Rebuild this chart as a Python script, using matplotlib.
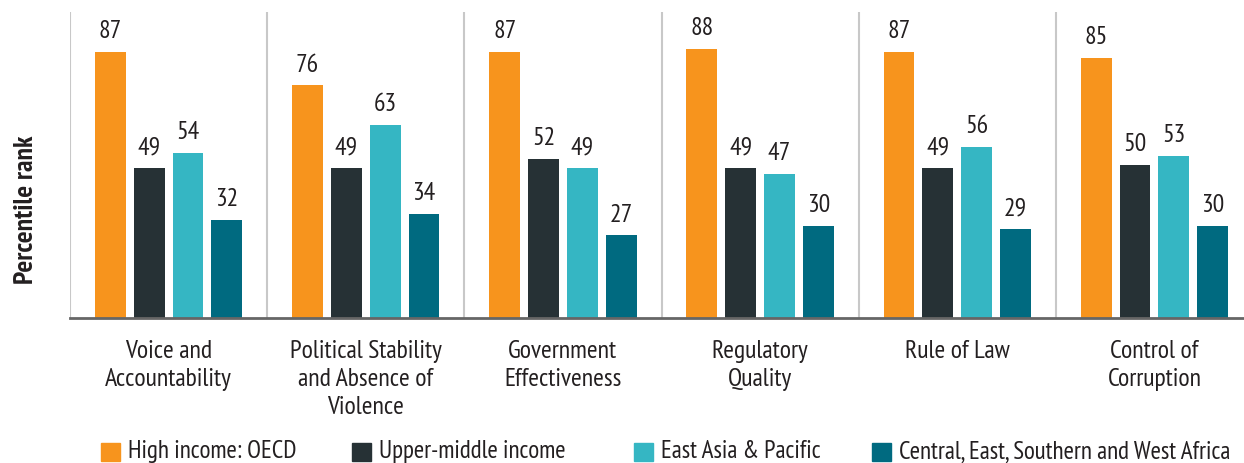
import numpy as np
import matplotlib.pyplot as plt
from matplotlib import font_manager
from matplotlib.patches import Rectangle

# data
categories = ["Voice and\nAccountability", "Political Stability\nand Absence of\nViolence",
              "Government\nEffectiveness", "Regulatory\nQuality", "Rule of Law",
              "Control of\nCorruption"]
series_names = ["High income: OECD", "Upper-middle income", "East Asia & Pacific",
                "Central, East, Southern and West Africa"]
high_income = [87, 76, 87, 88, 87, 85]
upper_middle = [49, 49, 52, 49, 49, 50]
east_asia = [54, 63, 49, 47, 56, 53]
africa = [32, 34, 27, 30, 29, 30]

colors = ["#F7941D", "#263135", "#35B6C3", "#006A80"]

# pick a condensed face close to the original
names = {f.name for f in font_manager.fontManager.ttflist}
fam = "DejaVu Sans"
for cand in ["PT Sans Narrow", "Fira Sans Condensed", "Roboto Condensed",
             "Archivo Narrow", "Asap Condensed"]:
    if cand in names:
        fam = cand
        break
plt.rcParams['font.family'] = [fam, 'DejaVu Sans']
txt_color = "#231f20"

fig = plt.figure(figsize=(12.44, 4.64), dpi=100)
# axes spans a little past the right edge, like the original
ax = fig.add_axes([70 / 1244, (464 - 319) / 464, 1183 / 1244, 306 / 464])

x = np.arange(len(categories))
step = 0.197
width = 0.157
all_series = [high_income, upper_middle, east_asia, africa]
for k, vals in enumerate(all_series):
    pos = x + (k - 1.5) * step
    ax.bar(pos, vals, width, color=colors[k], label=series_names[k])
    for p, v in zip(pos, vals):
        ax.text(p, v + 3.2, str(v), ha='center', va='bottom', fontsize=18.5, color=txt_color)

for i in range(len(categories) + 1):
    ax.axvline(i - 0.5, ymin=0, ymax=1, color="#c8c8c8", lw=1.5, zorder=0)

ax.set_xlim(-0.5, len(categories) - 0.5)
ax.set_ylim(0, 100)
ax.set_yticks([])
ax.set_xticks(x)
ax.set_xticklabels(categories, fontsize=18.5, color=txt_color, linespacing=1.28)
ax.tick_params(axis='x', length=0, pad=15)
for s in ['top', 'right', 'left']:
    ax.spines[s].set_visible(False)
ax.spines['bottom'].set_color("#666666")
ax.spines['bottom'].set_linewidth(2)

ax.set_ylabel("Percentile rank", fontsize=20, fontweight='bold', color=txt_color)
ax.yaxis.set_label_coords(-0.027, 0.356)

# legend drawn by hand so each entry sits where the original has it
legend_x = [101, 352, 634, 872]
for k, name in enumerate(series_names):
    x0 = legend_x[k] / 1244
    fig.patches.append(Rectangle((x0, 1 - 462 / 464), 19 / 1244, 18 / 464,
                                 transform=fig.transFigure, color=colors[k]))
    fig.text(x0 + 27 / 1244, 1 - 452 / 464, name, va='center', ha='left',
             fontsize=18, color=txt_color)

fig.savefig("out.png", dpi=100)
